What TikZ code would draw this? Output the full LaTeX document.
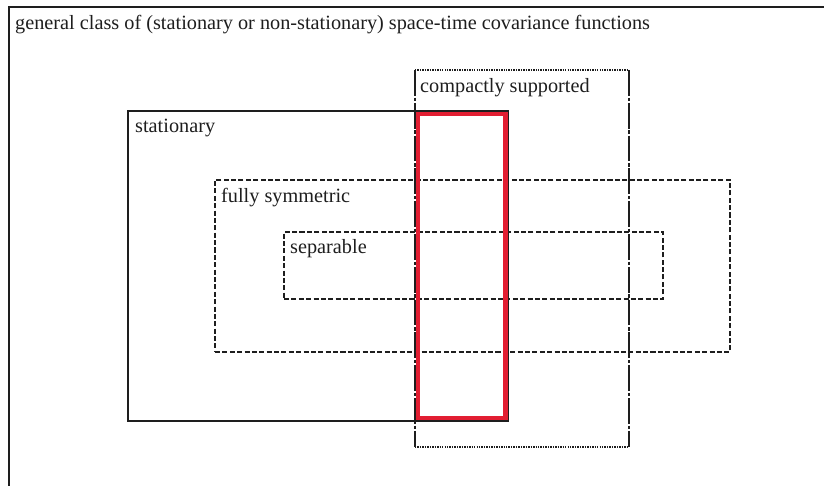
\documentclass[tikz,border=0pt]{standalone}
\usepackage{fontspec}
\setmainfont{Liberation Serif}
\usepackage{xcolor}
\usepackage{tikz}
\usetikzlibrary{positioning}
\definecolor{boxred}{RGB}{226,30,50}
\definecolor{linegray}{RGB}{30,30,30}
\tikzstyle{setbox} = [rectangle, draw=linegray, line width=1.8pt, inner sep=0pt, outer sep=0pt]
\tikzstyle{dashbox} = [setbox, line width=1.5pt, dash pattern=on 4.3pt off 2pt]
\tikzstyle{redbox} = [rectangle, draw=boxred, line width=3.8pt, inner sep=0pt, outer sep=0pt]
\tikzstyle{dotline} = [draw=linegray, line width=2.2pt, dash pattern=on 1.2pt off 0.9pt]
\tikzstyle{sideline} = [draw=linegray, line width=1.8pt, dash pattern=on 22pt off 1.5pt on 3pt off 1.5pt]
\tikzstyle{boxlabel} = [anchor=base west, inner sep=0pt, text=linegray, font=\fontsize{17.3pt}{20pt}\selectfont]

\begin{document}
\begin{tikzpicture}[x=0.03cm, y=-0.03cm]
    \useasboundingbox[fill=white] (0,0) rectangle (824,486);
    \clip (0,0) rectangle (824,486);
    % outer class, cut by the picture border
    \node(general)[setbox, minimum width=26.73cm, minimum height=16.59cm] at (454.5,283.5) {};
    \node(generallabel)[boxlabel] at ([shift={(6,23)}]general.north west) {general class of (stationary or non-stationary) space-time covariance functions};
    %
    \node(stat)[setbox, minimum width=11.4cm, minimum height=9.3cm] at (318,266) {};
    \node(statlabel)[boxlabel] at ([shift={(7,22)}]stat.north west) {stationary};
    %
    \node(fullsym)[dashbox, minimum width=15.45cm, minimum height=5.16cm] at (472.5,266) {};
    \node(fullsymlabel)[boxlabel] at ([shift={(6,23)}]fullsym.north west) {fully symmetric};
    %
    \node(sep)[dashbox, minimum width=11.37cm, minimum height=2.01cm] at (473.5,265.5) {};
    \node(seplabel)[boxlabel] at ([shift={(6,22)}]sep.north west) {separable};
    %
    \node(compact)[rectangle, inner sep=0pt, outer sep=0pt, minimum width=6.42cm, minimum height=11.31cm] at (522,258.5) {};
    \draw[dotline] (compact.north west) -- (compact.north east);
    \draw[dotline] (compact.south west) -- (compact.south east);
    \draw[sideline] (compact.north west) -- (compact.south west);
    \draw[sideline] (compact.north east) -- (compact.south east);
    \node(compactlabel)[boxlabel] at ([shift={(5,23)}]compact.north west) {compactly supported};
    %
    \node(red)[redbox, minimum width=2.625cm, minimum height=9.12cm] at (461.75,266) {};
\end{tikzpicture}
\end{document}
